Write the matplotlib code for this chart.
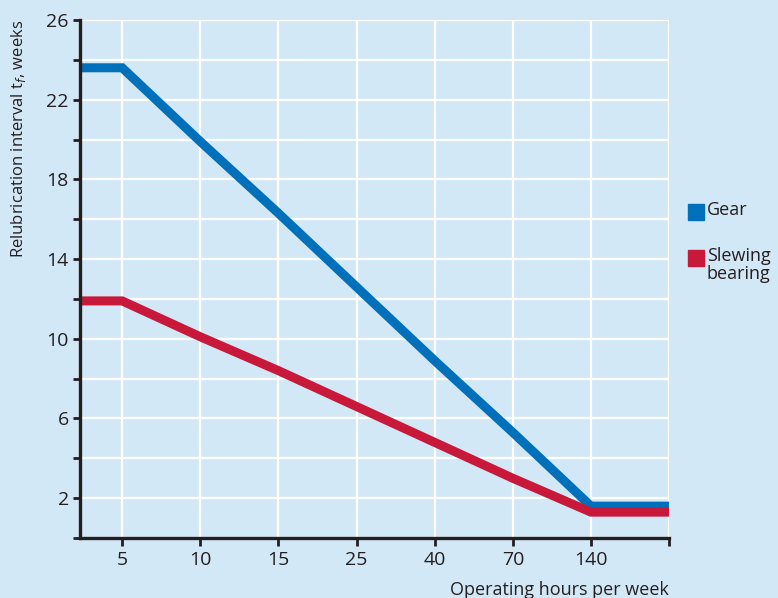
import numpy as np
import matplotlib
matplotlib.use('Agg')
import matplotlib.pyplot as plt
from matplotlib.lines import Line2D

# data (x axis is categorical, equally spaced)
hour_labels = ['5', '10', '15', '25', '40', '70', '140']
gear = [23.6, 23.6, 19.9, 16.3, 12.6, 8.9, 5.3, 1.6, 1.6]
slewing = [11.9, 11.9, 10.1, 8.4, 6.6, 4.8, 3.0, 1.3, 1.3]
series_names = ['Gear', 'Slewing\nbearing']

bg = '#d3e8f7'
blue = '#0070bb'
red = '#c8193a'
ink = '#231f20'

plt.rcParams['font.family'] = ['Open Sans', 'DejaVu Sans']

# x positions: left edge, each category, right edge
x_left = -0.54
xs = [x_left] + list(range(len(hour_labels))) + [len(hour_labels)]

fig = plt.figure(figsize=(7.78, 5.98), dpi=100, facecolor=bg)
ax = fig.add_axes([0.1028, 0.1003, 0.7572, 0.8663])
ax.set_facecolor(bg)

ax.plot(xs, gear, color=blue, lw=6.5, solid_joinstyle='miter', solid_capstyle='butt', zorder=3)
ax.plot(xs, slewing, color=red, lw=6.5, solid_joinstyle='miter', solid_capstyle='butt', zorder=3)

ax.set_xlim(x_left, len(hour_labels))
ax.set_ylim(0, 26)

ax.set_xticks(range(len(hour_labels) + 1))
ax.set_xticklabels(hour_labels + [''])
ax.set_yticks(np.arange(2, 27, 4))
ax.set_yticks(np.arange(0, 27, 4), minor=True)

# white grid
for v in range(len(hour_labels) + 1):
    ax.axvline(v, color='white', lw=1.6, zorder=1)
for v in range(2, 27, 2):
    ax.axhline(v, color='white', lw=1.6, zorder=1)

for side in ['top', 'right']:
    ax.spines[side].set_visible(False)
for side in ['left', 'bottom']:
    ax.spines[side].set_color(ink)
    ax.spines[side].set_linewidth(2.4)
    ax.spines[side].set_zorder(4)

ax.tick_params(which='both', direction='out', length=5, width=2, color=ink,
               labelsize=14, labelcolor=ink, pad=3)
ax.tick_params(axis='x', which='both', length=6)

ax.set_ylabel(r'Relubrication interval t$_f$, weeks', fontsize=12, color=ink, loc='top', labelpad=13)
ax.set_xlabel('Operating hours per week', fontsize=13, color=ink, loc='right', labelpad=9)

# legend drawn by hand: coloured squares with text beside them
legend_y = [212, 258]
for name, col, py in zip(series_names, [blue, red], legend_y):
    yf = 1 - py / 598
    fig.add_artist(Line2D([696 / 778], [yf], marker='s', markersize=12, color=col,
                          linestyle='none', transform=fig.transFigure))
    fig.text(707 / 778, yf + 0.018, name, fontsize=13, color=ink, va='top',
             ha='left', linespacing=1.0)

plt.savefig('out.png', dpi=100, facecolor=bg)
